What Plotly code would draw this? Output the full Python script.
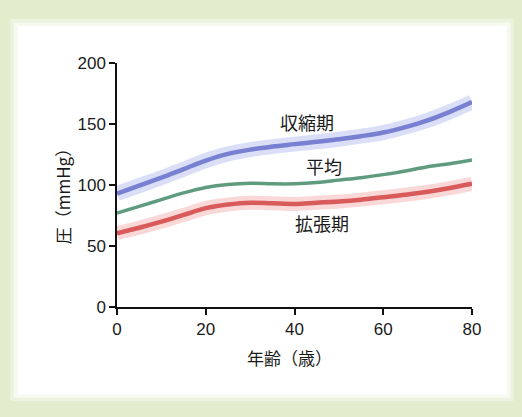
import plotly.graph_objects as go

# 年齢 (歳)
age = [0, 5, 10, 15, 20, 25, 30, 35, 40, 45, 50, 55, 60, 65, 70, 75, 80]

# 血圧 (mmHg)
systolic = [93, 99.5, 106, 113, 120, 125.5, 129, 131.5, 133.5, 135.5, 137.5, 140, 143, 147.5, 153, 160, 168]
mean_bp = [77, 82.5, 88, 93.5, 98, 100.5, 101.5, 101, 101, 102, 104, 106, 108.5, 111.5, 115, 117.5, 120.5]
diastolic = [60.5, 65, 70, 75.5, 81, 84, 85.5, 85, 84.5, 85.5, 86.5, 88, 90, 92, 94.5, 97.5, 101]

labels = ["収縮期", "平均", "拡張期"]
label_pos = [(42.8, 151.5), (46.6, 115.5), (46.2, 68.8)]
x_ticks = [0, 20, 40, 60, 80]
y_ticks = [0, 50, 100, 150, 200]

jp = "Noto Sans CJK JP"
num = "Liberation Sans"
ink = "#1a1a1a"

fig = go.Figure()

# soft bands behind the systolic/diastolic lines
fig.add_trace(go.Scatter(x=age, y=systolic, mode="lines", hoverinfo="skip",
                         line=dict(color="rgba(200,205,243,0.65)", width=15, shape="spline")))
fig.add_trace(go.Scatter(x=age, y=diastolic, mode="lines", hoverinfo="skip",
                         line=dict(color="rgba(246,190,188,0.6)", width=14, shape="spline")))

fig.add_trace(go.Scatter(x=age, y=systolic, mode="lines", name="収縮期",
                         line=dict(color="#7880d2", width=4.5, shape="spline")))
fig.add_trace(go.Scatter(x=age, y=mean_bp, mode="lines", name="平均",
                         line=dict(color="#5f9b7f", width=3.5, shape="spline")))
fig.add_trace(go.Scatter(x=age, y=diastolic, mode="lines", name="拡張期",
                         line=dict(color="#d95a5b", width=4.5, shape="spline")))

for txt, (ax, ay) in zip(labels, label_pos):
    fig.add_annotation(x=ax, y=ay, text=txt, showarrow=False,
                       xanchor="center", yanchor="middle",
                       font=dict(family=jp, size=18, color=ink))

# axis titles as annotations for exact placement
fig.add_annotation(xref="x", yref="paper", x=38.9, y=-0.205, text="年齢（歳）",
                   showarrow=False, xanchor="center", yanchor="middle",
                   font=dict(family=jp, size=17, color=ink))
fig.add_annotation(xref="paper", yref="paper", x=-0.155, y=0.47, text="圧（mmHg）",
                   textangle=-90, showarrow=False, xanchor="center", yanchor="middle",
                   font=dict(family=jp, size=17, color=ink))

# green frame with white card
shapes = [
    dict(type="rect", xref="paper", yref="paper", x0=-0.3, x1=1.117, y0=-0.385, y1=1.18,
         fillcolor="#eef3e0", line=dict(width=0), layer="below"),
    dict(type="rect", xref="paper", yref="paper", x0=-0.29, x1=1.108, y0=-0.372, y1=1.165,
         fillcolor="#f7faf0", line=dict(width=0), layer="below"),
    dict(type="rect", xref="paper", yref="paper", x0=-0.279, x1=1.099, y0=-0.36, y1=1.152,
         fillcolor="#ffffff", line=dict(width=0), layer="below"),
]

fig.update_layout(
    width=522, height=417,
    margin=dict(l=117, r=50, t=63, b=110),
    paper_bgcolor="#e4ecce",
    plot_bgcolor="rgba(0,0,0,0)",
    showlegend=False,
    shapes=shapes,
    xaxis=dict(range=[0, 80], tickvals=x_ticks, showline=True, linecolor="#111", linewidth=1.5,
               ticks="outside", ticklen=6, tickwidth=1.5, tickcolor="#111",
               showgrid=False, zeroline=False,
               tickfont=dict(family=num, size=17, color=ink)),
    yaxis=dict(range=[0, 200], tickvals=y_ticks, showline=True, linecolor="#111", linewidth=1.5,
               ticks="outside", ticklen=6, tickwidth=1.5, tickcolor="#111",
               showgrid=False, zeroline=False,
               tickfont=dict(family=num, size=17, color=ink)),
)

# drop the browser's default body margin so the figure sits at the page corner
fig.write_html("out.html", config={"displayModeBar": False},
               post_script="document.body.style.margin='0';document.body.style.background='#e4ecce';")
